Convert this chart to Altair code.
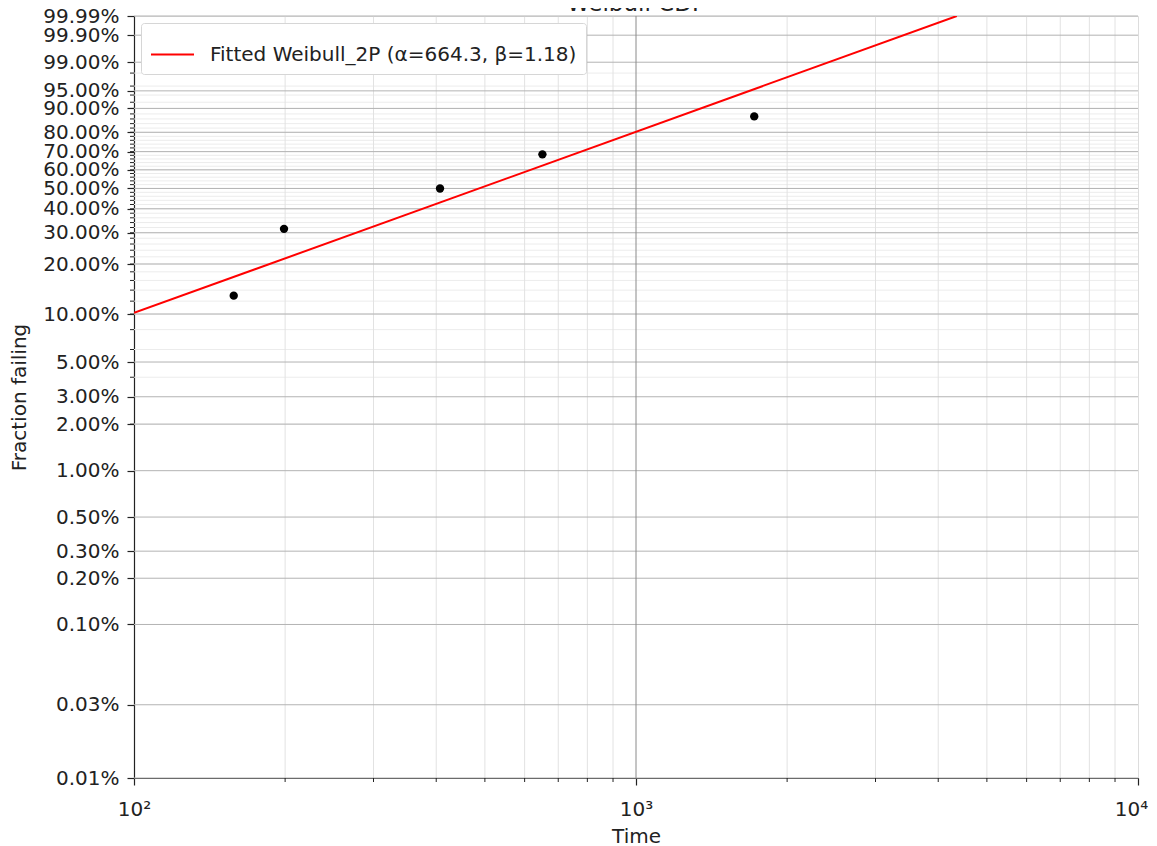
import math
import altair as alt
import pandas as pd

# ---- data ----
fail_times = [158, 199, 407, 651, 1720]
fail_fraction = [0.1296, 0.3148, 0.5000, 0.6852, 0.8704]

fit_label = "Fitted Weibull_2P (α=664.3, β=1.18)"
fit_times = [100, 4356]
fit_fraction = [0.1016, 0.9999]

# ---- axis ticks ----
y_major = [0.0001, 0.0003, 0.001, 0.002, 0.003, 0.005, 0.01, 0.02, 0.03, 0.05,
           0.10, 0.20, 0.30, 0.40, 0.50, 0.60, 0.70, 0.80, 0.90, 0.95, 0.99, 0.999, 0.9999]
y_minor = [p / 100 for p in range(2, 100, 2)]
x_major = [100, 1000, 10000]
x_minor = [200, 300, 400, 500, 600, 700, 800, 900,
           2000, 3000, 4000, 5000, 6000, 7000, 8000, 9000]


def wb(f):
    return math.log(-math.log(1 - f))


W, H = 1004, 762
FONT = "DejaVu Sans"
TXT = "#222222"
FS = 20

y_dom = [wb(y_major[0]), wb(y_major[-1])]
yscale = alt.Scale(domain=y_dom, nice=False, zero=False)
xscale = alt.Scale(type="log", domain=[100, 10000], nice=False)

y_axis = alt.Axis(
    values=[wb(v) for v in y_major],
    labelExpr="format(1 - exp(-exp(datum.value)), '.2%')",
    title="Fraction failing", grid=False, labelOverlap=False, labelBound=False,
    labelFont=FONT, labelFontSize=FS, labelColor=TXT, labelPadding=8,
    tickSize=7, tickColor="#222", tickWidth=1.2, domainColor="#222", domainWidth=1.2,
    titleFont=FONT, titleFontSize=FS, titleFontWeight="normal", titleColor=TXT,
    titlePadding=13,
)
x_axis = alt.Axis(
    values=x_major,
    labelExpr="datum.value == 100 ? '10²' : (datum.value == 1000 ? '10³' : '10⁴')",
    labelOffset={"condition": {"test": "datum.value == 10000", "value": -7}, "value": 0},
    title="Time", grid=False, labelOverlap=False, labelBound=False, labelFlush=False,
    labelFont=FONT, labelFontSize=FS, labelColor=TXT, labelPadding=14,
    tickSize=7, tickColor="#222", tickWidth=1.2, domainColor="#222", domainWidth=1.2,
    titleFont=FONT, titleFontSize=FS, titleFontWeight="normal", titleColor=TXT,
    titlePadding=7,
)


def X(field):
    return alt.X(field, type="quantitative", scale=xscale, axis=x_axis)


def Y(field):
    return alt.Y(field, type="quantitative", scale=yscale, axis=y_axis)


ymin_df = pd.DataFrame({"F": y_minor})
ymaj_df = pd.DataFrame({"F": y_major})
xmin_df = pd.DataFrame({"t": x_minor})
xmaj_df = pd.DataFrame({"t": [1000]})
pts_df = pd.DataFrame({"t": fail_times, "F": fail_fraction})
fit_df = pd.DataFrame({"t": fit_times, "F": fit_fraction, "name": [fit_label] * len(fit_times)})

calc = {"yw": "log(-log(1 - datum.F))"}

minor_y_grid = alt.Chart(ymin_df).transform_calculate(**calc).mark_rule(
    color="#ececec", strokeWidth=1).encode(y=Y("yw"))
minor_x_grid = alt.Chart(xmin_df).mark_rule(color="#e2e2e2", strokeWidth=1).encode(x=X("t"))
major_y_grid = alt.Chart(ymaj_df).transform_calculate(**calc).mark_rule(
    color="#b3b3b3", strokeWidth=1).encode(y=Y("yw"))
major_x_grid = alt.Chart(xmaj_df).mark_rule(color="#8a8a8a", strokeWidth=1).encode(x=X("t"))

minor_y_ticks = alt.Chart(ymin_df).transform_calculate(**calc).mark_rule(
    color="#222", strokeWidth=1).encode(y=Y("yw"), x=alt.value(-4), x2=alt.value(0))
minor_x_ticks = alt.Chart(xmin_df).mark_rule(color="#222", strokeWidth=1).encode(
    x=X("t"), y=alt.value(H), y2=alt.value(H + 4))

fit_line = alt.Chart(fit_df).transform_calculate(**calc).mark_line(
    strokeWidth=2, clip=True).encode(
    x=X("t"), y=Y("yw"),
    color=alt.Color("name:N", scale=alt.Scale(domain=[fit_label], range=["#ff0000"]),
                    legend=alt.Legend(
                        title=None, orient="top-left", offset=7,
                        symbolType="stroke", symbolSize=1849, symbolStrokeWidth=2,
                        labelFont=FONT, labelFontSize=FS, labelColor=TXT, labelOffset=15,
                        labelLimit=0,
                        fillColor="white", strokeColor="#d6d6d6", cornerRadius=3,
                        padding=9)),
)

points = alt.Chart(pts_df).transform_calculate(**calc).mark_circle(
    size=70, color="black", opacity=1).encode(x=X("t"), y=Y("yw"))

chart = alt.layer(
    minor_y_grid, minor_x_grid, major_y_grid, major_x_grid,
    minor_y_ticks, minor_x_ticks, fit_line, points,
).properties(
    width=W, height=H,
    title=alt.TitleParams("Weibull CDF", font=FONT, fontSize=23, fontWeight="normal",
                          color=TXT, anchor="middle", offset=0, dy=10),
    autosize=alt.AutoSizeParams(type="none"),
    padding={"left": 126, "top": 8, "right": 11, "bottom": 68},
).configure_view(stroke="#222", strokeWidth=1.2).configure(background="white")

chart.save("out.html", embed_options={"renderer": "svg", "actions": False})
